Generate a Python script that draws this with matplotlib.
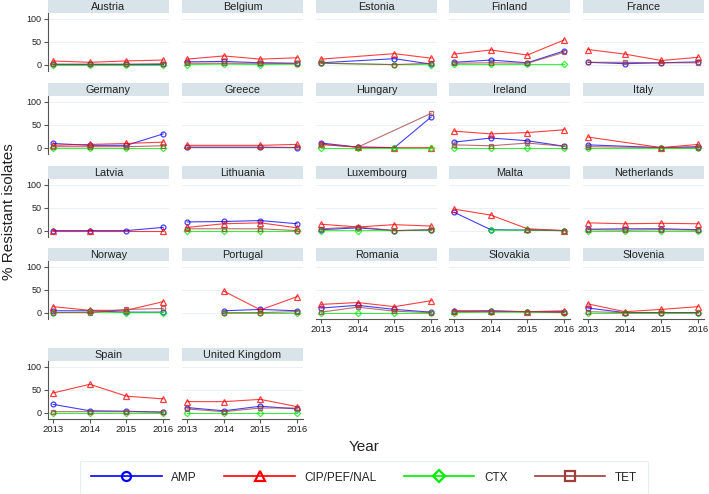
import numpy as np
import matplotlib
matplotlib.use("Agg")
import matplotlib.pyplot as plt
from matplotlib.lines import Line2D

plt.rcParams['font.family'] = ['Liberation Sans', 'DejaVu Sans']

nan = np.nan
years = [2013, 2014, 2015, 2016]
countries = ["Austria", "Belgium", "Estonia", "Finland", "France",
             "Germany", "Greece", "Hungary", "Ireland", "Italy",
             "Latvia", "Lithuania", "Luxembourg", "Malta", "Netherlands",
             "Norway", "Portugal", "Romania", "Slovakia", "Slovenia",
             "Spain", "United Kingdom"]

# % resistant isolates per country, years 2013-2016
amp = [[1, 1, 1, 1], [6, 7, 4, 3], [4, nan, 13, 1], [5, 10, 4, 30], [5, 2, 4, 6],
       [9, 5, 5, 30], [1, nan, 1, 0], [10, 1, 0, 67], [12, 21, 15, 3], [6, nan, 0, 2],
       [0, 0, 0, 7], [19, 20, 22, 15], [2, 6, 0, 1], [40, 2, 1, 0], [3, 4, 4, 2],
       [4, 4, 1, 1], [nan, 4, 7, 4], [10, 16, 7, 1], [3, 4, 2, 2], [10, 0, 0, 0],
       [18, 4, 3, 1], [11, 4, 14, 8]]
cip = [[8, 5, 8, 10], [12, 19, 12, 15], [12, nan, 24, 14], [23, 32, 21, 54], [33, 23, 9, 16],
       [5, 7, 9, 12], [5, nan, 5, 7], [7, 1, 0, 0], [36, 30, 33, 39], [23, nan, 0, 7],
       [0, 0, nan, 0], [7, 15, 17, 6], [14, 8, 13, 10], [47, 34, 4, 0], [17, 15, 16, 15],
       [13, 5, 5, 24], [nan, 47, 6, 35], [18, 22, 13, 26], [4, 3, 2, 4], [19, 2, 7, 13],
       [43, 62, 36, 30], [24, 24, 29, 13]]
ctx = [[0, 0, 0, 0], [0, 1, 0, 1], [3, nan, 0, 0], [1, 1, 1, 1], [nan, nan, nan, nan],
       [0, 0, 0, 0], [nan, nan, nan, nan], [0, 0, 0, 0], [0, 0, 0, 0], [0, nan, 0, 0],
       [nan, nan, nan, nan], [0, 0, 0, 0], [0, 0, 0, 1], [nan, 1, 1, 0], [0, 0, 0, 0],
       [0, 1, 0, 0], [nan, 0, 0, 0], [0, 0, 0, 0], [0, 1, 1, 0], [0, 0, 0, 0],
       [0, 0, 0, 0], [0, 0, 0, 0]]
tet = [[1, 1, 1, 2], [3, 3, 3, 2], [3, nan, 0, 3], [3, 4, 3, 27], [5, 5, 4, 4],
       [2, 2, 2, 4], [1, nan, 1, 1], [7, 1, nan, 75], [6, 4, 10, 3], [2, nan, 0, 0],
       [nan, nan, nan, nan], [4, 4, 4, 0], [4, 8, 0, 2], [nan, nan, 2, 0], [2, 1, 2, 1],
       [0, 0, 7, 9], [nan, 0, 0, 2], [1, 12, 3, 0], [2, 2, 2, 0], [2, 0, 0, 0],
       [2, 2, 2, 1], [8, 2, 10, 10]]

drugs = ["AMP", "CIP/PEF/NAL", "CTX", "TET"]
series = [amp, cip, ctx, tet]
colors = ["#0000ff", "#ff0000", "#00ee00", "#a03c3c"]
markers = ["o", "^", "D", "s"]
msizes = [3.5, 4, 3.2, 3.4]

W, H = 709, 494
fig = plt.figure(figsize=(W / 100, H / 100), dpi=100)

col_left = [48, 182, 316, 449, 583]
row_top = [0, 83, 166, 248, 348]
pw, strip_h, ph = 121, 13, 58
strip_col = "#d9e4ea"
axis_col = "#555555"

for i, name in enumerate(countries):
    r, c = divmod(i, 5)
    x0, y0 = col_left[c], row_top[r]
    # strip with country name
    sax = fig.add_axes([x0 / W, 1 - (y0 + strip_h) / H, pw / W, strip_h / H])
    sax.set_facecolor(strip_col)
    sax.set_xticks([]); sax.set_yticks([])
    for s in sax.spines.values():
        s.set_visible(False)
    sax.text(0.5, 0.45, name, ha="center", va="center", fontsize=7.8, color="#222222")

    ax = fig.add_axes([x0 / W, 1 - (y0 + strip_h + ph) / H, pw / W, ph / H])
    ax.set_xlim(2012.86, 2016.16)
    ax.set_ylim(-14, 113)
    for yv in [0, 50, 100]:
        ax.axhline(yv, color="#eaf0f3", lw=0.7, zorder=0)
    for vals, col, mk, ms in zip(series, colors, markers, msizes):
        v = np.array(vals[i], dtype=float)
        ok = ~np.isnan(v)
        ax.plot(np.array(years)[ok], v[ok], color=col, lw=0.8, alpha=0.75,
                marker=mk, ms=ms, mfc="none", mec=col, mew=0.9)

    for s in ax.spines.values():
        s.set_visible(False)
    if c == 0:
        ax.spines["left"].set_visible(True)
        ax.spines["left"].set_color(axis_col)
        ax.spines["left"].set_linewidth(0.8)
        ax.set_yticks([0, 50, 100])
        ax.tick_params(axis="y", length=3, width=0.8, color=axis_col, labelsize=6.5,
                       pad=1.5, labelcolor="#222222")
    else:
        ax.set_yticks([])
    bottom = (r == 4) or (r == 3 and c >= 2)
    if bottom:
        ax.spines["bottom"].set_visible(True)
        ax.spines["bottom"].set_color(axis_col)
        ax.spines["bottom"].set_linewidth(0.8)
        ax.set_xticks(years)
        ax.tick_params(axis="x", length=3, width=0.8, color=axis_col, labelsize=6.8,
                       pad=1.5, labelcolor="#222222")
    else:
        ax.set_xticks([])

fig.text(9 / W, 1 - 212 / H, "% Resistant isolates", rotation=90, ha="center",
         va="center", fontsize=11, color="#222222")
fig.text(364 / W, 1 - 447 / H, "Year", ha="center", va="center", fontsize=11,
         color="#222222")

handles = [Line2D([], [], color=col, lw=1.2, marker=mk, ms=6.5, mfc="none", mec=col, mew=1.6)
           for col, mk in zip(colors, markers)]
leg = fig.legend(handles, drugs, loc="center", ncol=4,
                 bbox_to_anchor=(364 / W, 1 - 477.5 / H), fontsize=8.5,
                 handlelength=6, handletextpad=0.8, columnspacing=2.3,
                 frameon=True, fancybox=False, borderpad=0.9, edgecolor="#e4eaee")
leg.get_frame().set_linewidth(0.8)
for t in leg.get_texts():
    t.set_color("#222222")

fig.savefig("out.png", dpi=100)
